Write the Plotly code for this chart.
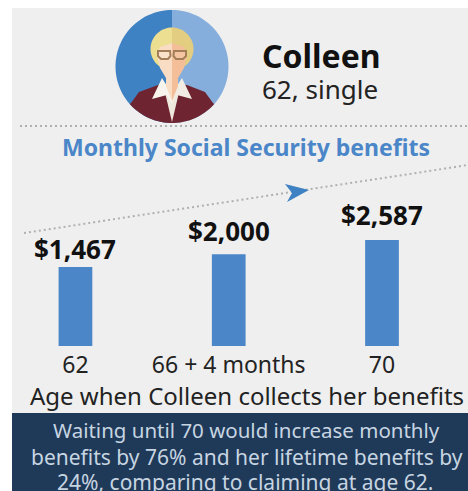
import numpy as np
import plotly.graph_objects as go

ages = ["62", "66 + 4 months", "70"]
benefits = [1467, 2000, 2587]
benefit_labels = ["$1,467", "$2,000", "$2,587"]
axis_base = -1811
axis_title = "Age when Colleen collects her benefits"
callout = ["Waiting until 70 would increase monthly",
           "benefits by 76% and her lifetime benefits by",
           "24%, comparing to claiming at age 62."]

W, H = 468, 491
FONT = "Noto Sans"
BLUE = "#4a86c8"


def px(x):
    return x / W


def py(y):
    return 1 - y / H


def path(points, close=True):
    s = "M" + " L".join(f"{px(x):.5f},{py(y):.5f}" for x, y in points)
    return s + (" Z" if close else "")


def shape(points, fill, line=None, width=0):
    return dict(type="path", xref="paper", yref="paper", path=path(points),
                fillcolor=fill, line=dict(color=line or "rgba(0,0,0,0)", width=width), layer="above")


def rect(x0, y0, x1, y1, fill, layer="below"):
    return dict(type="rect", xref="paper", yref="paper", x0=px(x0), x1=px(x1), y0=py(y0), y1=py(y1),
                fillcolor=fill, line=dict(width=0), layer=layer)


def arc(cx, cy, r, a0, a1, n=60):
    t = np.radians(np.linspace(a0, a1, n))
    return list(zip(cx + r * np.cos(t), cy + r * np.sin(t)))


CX, CY, R = 172, 66.5, 56.5
shapes = [rect(12, 8, 468, 491, "#efefef"), rect(12, 413, 468, 491, "#1f3a58")]

a0 = np.degrees(np.arctan2(103 - CY, 213 - CX))
a1 = np.degrees(np.arctan2(103 - CY, 131 - CX))
shapes += [
    shape(arc(CX, CY, R, 90, 270), "#3f82c4"),
    shape(arc(CX, CY, R, -90, 90), "#86aedd"),
    # hair
    shape(arc(172, 49, 21.5, 90, 270, 30), "#ecdf92"),
    shape(arc(172, 49, 21.5, -90, 90, 30), "#e2cd80"),
    # jacket
    shape([(131, 103), (139, 92), (158, 85), (172, 84), (187, 85), (205, 92), (213, 103)] + arc(CX, CY, R, a0, a1, 30),
          "#6f2431"),
    # shirt opening
    shape([(163, 84), (181, 84), (172, 122)], "#efe9dd"),
    # collars
    shape([(162, 78), (152, 99), (167, 95), (172, 104), (172, 94)], "#f7f4ee"),
    shape([(182, 78), (192, 99), (177, 95), (172, 104), (172, 94)], "#f1ede4"),
    # face and neck
    shape([(172, 43), (160, 47), (157, 56), (160, 68), (166, 78), (166, 86), (172, 101)], "#f9dcc4"),
    shape([(172, 43), (184, 47), (187, 56), (184, 68), (178, 78), (178, 86), (172, 101)], "#f4bf98"),
    # glasses
    shape([(158, 51), (170, 51), (170.5, 56), (168, 59), (161, 59), (158, 56)], "rgba(255,255,255,0.15)", "#a27f58", 2),
    shape([(174, 51), (186, 51), (186, 56), (183, 59), (176, 59), (173.5, 56)], "rgba(255,255,255,0.1)", "#a27f58", 2),
]

shapes += [
    dict(type="line", xref="paper", yref="paper", x0=px(20), x1=px(468), y0=py(126), y1=py(126),
         line=dict(color="#b0b0b0", width=2, dash="2px,3px"), layer="below"),
    dict(type="line", xref="paper", yref="paper", x0=px(24), x1=px(468), y0=py(233), y1=py(165),
         line=dict(color="#b0b0b0", width=2, dash="2px,3px"), layer="below"),
    shape([(285, 184), (309, 190), (287, 202), (292, 193)], "#3f82c4"),
]


def note(text, x, y, size, color, bold=False, anchor="center"):
    return dict(text=f"<b>{text}</b>" if bold else text, x=px(x), y=py(y), xref="paper", yref="paper",
                xanchor=anchor, yanchor="middle", showarrow=False,
                font=dict(family=FONT, size=size, color=color))


annotations = [
    note("Colleen", 260, 55, 32, "#111111", True, "left"),
    note("62, single", 260, 89, 26, "#222222", False, "left"),
    note("Monthly Social Security benefits", 246, 147, 23, BLUE, True),
    note(axis_title, 246.5, 395, 24, "#222222"),
]
for line_text, y, x, size in zip(callout, [430, 457, 482], [246, 247, 244.5], [20.5, 21, 21]):
    annotations.append(note(line_text, x, y, size, "#c7d5e2"))
for i, (value, label, shift) in enumerate(zip(benefits, benefit_labels, [18, 23, 25])):
    annotations.append(dict(text=f"<b>{label}</b>", x=i, y=value, xref="x", yref="y", yshift=shift,
                            xanchor="center", yanchor="middle", showarrow=False,
                            font=dict(family=FONT, size=26, color="#111111")))

fig = go.Figure(go.Bar(
    x=ages,
    y=[v - axis_base for v in benefits],
    base=axis_base,
    width=0.22,
    marker=dict(color=BLUE, line=dict(width=0)),
    hoverinfo="skip",
))
fig.update_layout(
    width=W, height=H, margin=dict(l=0, r=0, t=0, b=0), autosize=False,
    paper_bgcolor="white", plot_bgcolor="rgba(0,0,0,0)", showlegend=False,
    shapes=shapes, annotations=annotations,
    xaxis=dict(domain=[12 / W, 1], range=[-0.414, 2.561], type="category", showgrid=False, zeroline=False,
               showline=False, ticks="", ticklabelstandoff=3, tickfont=dict(family=FONT, size=23, color="#222222")),
    yaxis=dict(domain=[1 - 346 / H, 1 - 200 / H], range=[axis_base, axis_base + 146 / 0.0241], visible=False),
)
fig.write_html("out.html", config={"displayModeBar": False}, post_script="document.body.style.margin='0';")
